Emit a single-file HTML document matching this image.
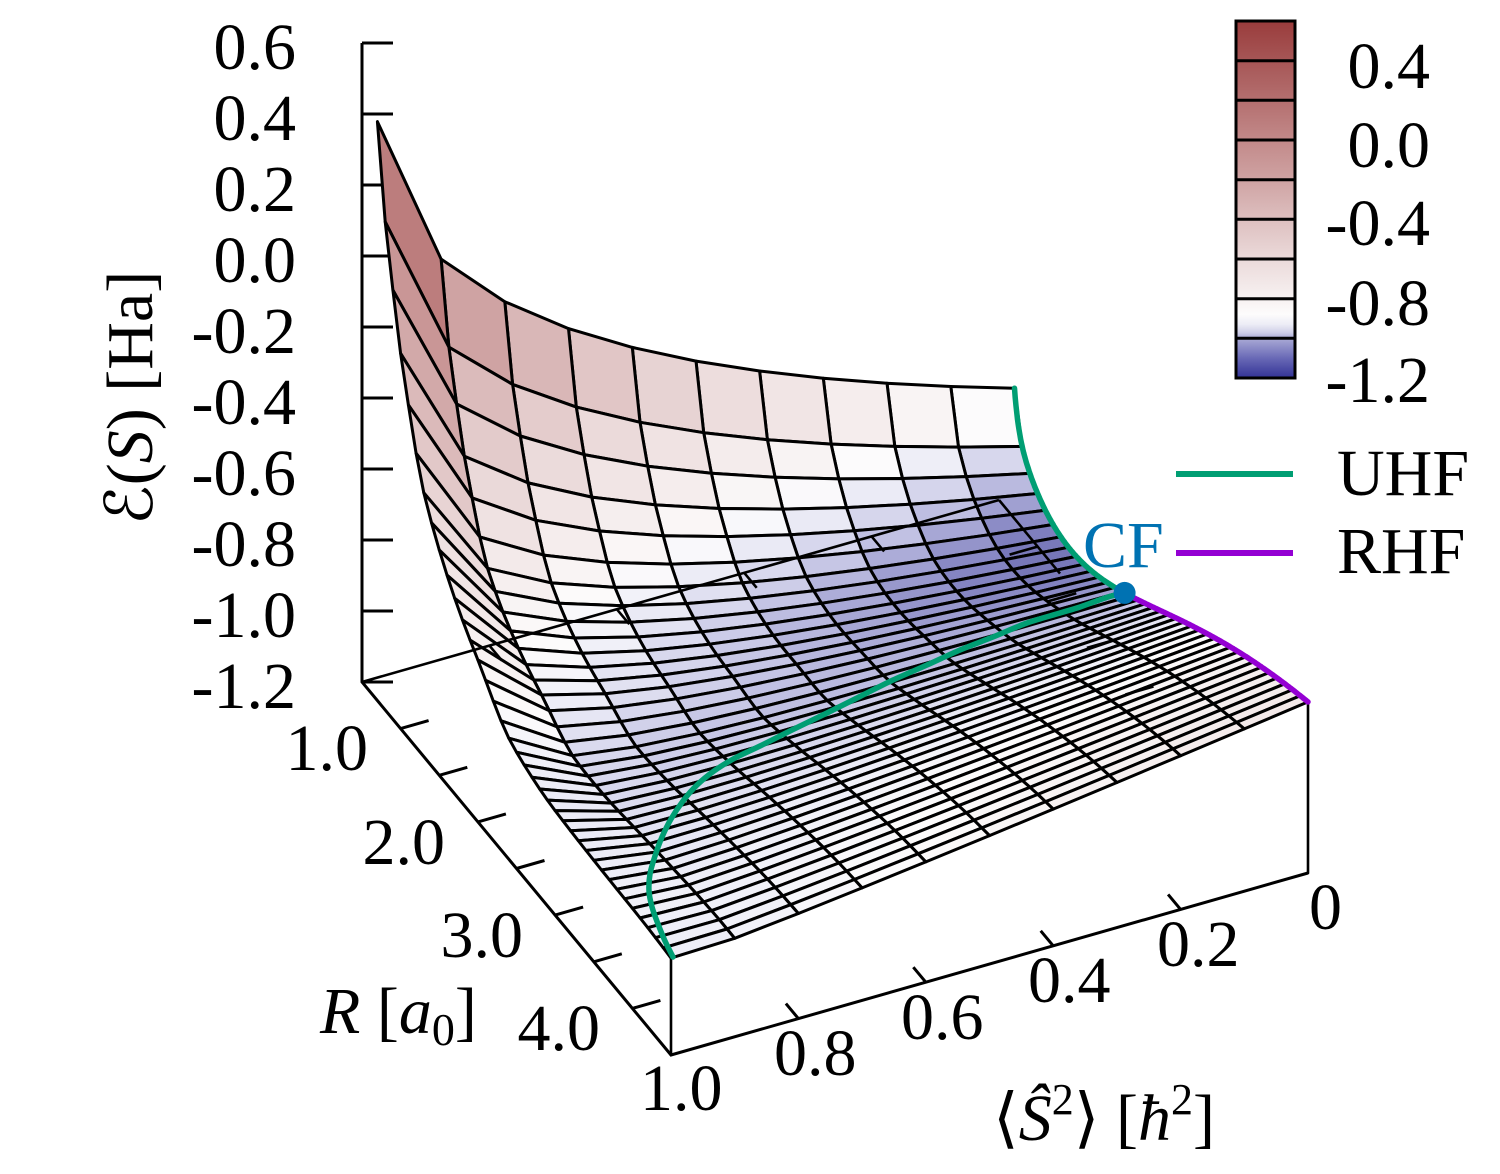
<!DOCTYPE html>
<html><head><meta charset="utf-8"><title>Energy surface</title>
<style>
html,body{margin:0;padding:0;background:#fff;width:1500px;height:1174px;overflow:hidden}
svg{display:block}
text{font-family:"Liberation Serif","DejaVu Serif","DejaVu Sans",serif;font-size:66px;fill:#000}
</style></head><body>
<svg id="svg" xmlns="http://www.w3.org/2000/svg" width="1500" height="1174" viewBox="0 0 1500 1174">
<defs>
<linearGradient id="cbg" x1="0" y1="0" x2="0" y2="1">
<stop offset="0" stop-color="rgb(154,60,60)"/>
<stop offset="0.1111" stop-color="rgb(166,86,86)"/>
<stop offset="0.2222" stop-color="rgb(180,111,111)"/>
<stop offset="0.3333" stop-color="rgb(194,137,137)"/>
<stop offset="0.4444" stop-color="rgb(207,163,163)"/>
<stop offset="0.5556" stop-color="rgb(221,191,191)"/>
<stop offset="0.6667" stop-color="rgb(235,218,218)"/>
<stop offset="0.7778" stop-color="rgb(247,241,241)"/>
<stop offset="0.8222" stop-color="rgb(253,252,252)"/>
<stop offset="0.85" stop-color="rgb(236,236,246)"/>
<stop offset="0.8722" stop-color="rgb(208,208,232)"/>
<stop offset="0.8889" stop-color="rgb(170,170,214)"/>
<stop offset="0.9444" stop-color="rgb(105,105,182)"/>
<stop offset="1" stop-color="rgb(50,50,150)"/>
</linearGradient>
</defs>

<g stroke="#000" stroke-width="3" fill="none">
<path d="M362,43 L362,682 L671,1055 L1308,873"/>
<line x1="362" y1="43" x2="393" y2="43"/>
<line x1="362" y1="114" x2="393" y2="114"/>
<line x1="362" y1="185" x2="393" y2="185"/>
<line x1="362" y1="256" x2="393" y2="256"/>
<line x1="362" y1="327" x2="393" y2="327"/>
<line x1="362" y1="398" x2="393" y2="398"/>
<line x1="362" y1="469" x2="393" y2="469"/>
<line x1="362" y1="540" x2="393" y2="540"/>
<line x1="362" y1="611" x2="393" y2="611"/>
<line x1="362" y1="682" x2="393" y2="682"/>
<line x1="400.6" y1="728.6" x2="428.6" y2="720.6"/>
<line x1="439.3" y1="775.3" x2="467.3" y2="767.3"/>
<line x1="477.9" y1="821.9" x2="505.9" y2="813.9"/>
<line x1="516.5" y1="868.5" x2="544.5" y2="860.5"/>
<line x1="555.1" y1="915.1" x2="583.1" y2="907.1"/>
<line x1="593.8" y1="961.8" x2="621.8" y2="953.8"/>
<line x1="632.4" y1="1008.4" x2="660.4" y2="1000.4"/>
<line x1="798.4" y1="1018.6" x2="785.9" y2="1003.6"/>
<line x1="925.8" y1="982.2" x2="913.3" y2="967.2"/>
<line x1="1053.2" y1="945.8" x2="1040.7" y2="930.8"/>
<line x1="1180.6" y1="909.4" x2="1168.1" y2="894.4"/>
</g>

<g id="surf" stroke="#000" stroke-width="3" stroke-linejoin="round"></g>

<g stroke="#000" stroke-width="2.6" fill="none">
<line x1="362" y1="682" x2="999" y2="500"/>
<line x1="489.4" y1="645.6" x2="501.9" y2="660.6"/>
<line x1="616.8" y1="609.2" x2="629.3" y2="624.2"/>
<line x1="744.2" y1="572.8" x2="756.7" y2="587.8"/>
<line x1="871.6" y1="536.4" x2="884.1" y2="551.4"/>
<line x1="999" y1="500" x2="1060" y2="573.6"/>
<line x1="1037.6" y1="546.6" x2="1009.6" y2="554.6"/>
<line x1="1076.3" y1="593.3" x2="1048.3" y2="601.3"/>
<line x1="1114.9" y1="639.9" x2="1086.9" y2="647.9"/>
<line x1="1153.5" y1="686.5" x2="1125.5" y2="694.5"/>
</g>
<g id="over" fill="none" stroke-linecap="round" stroke-linejoin="round"></g>

<g text-anchor="end">
<text x="296" y="69">0.6</text>
<text x="296" y="140">0.4</text>
<text x="296" y="211">0.2</text>
<text x="296" y="282">0.0</text>
<text x="296" y="353">-0.2</text>
<text x="296" y="424">-0.4</text>
<text x="296" y="495">-0.6</text>
<text x="296" y="566">-0.8</text>
<text x="296" y="637">-1.0</text>
<text x="296" y="708">-1.2</text>
</g>
<text transform="translate(152,398) rotate(-90)" text-anchor="middle">ℰ(<tspan font-style="italic">S</tspan>) [Ha]</text>

<g text-anchor="end">
<text x="368" y="770">1.0</text>
<text x="445" y="864">2.0</text>
<text x="523" y="957">3.0</text>
<text x="600" y="1050">4.0</text>
</g>
<text x="320" y="1033"><tspan font-style="italic">R</tspan> [<tspan font-style="italic">a</tspan><tspan font-size="46" dy="12">0</tspan><tspan dy="-12">]</tspan></text>

<text x="640" y="1110">1.0</text>
<text x="774" y="1075">0.8</text>
<text x="901" y="1039">0.6</text>
<text x="1028" y="1002">0.4</text>
<text x="1157" y="966">0.2</text>
<text x="1309" y="929">0</text>
<text x="993" y="1140">⟨<tspan font-style="italic">Ŝ</tspan><tspan font-size="44" dy="-26">2</tspan><tspan dy="26">⟩ [</tspan><tspan font-style="italic">ħ</tspan><tspan font-size="44" dy="-26">2</tspan><tspan dy="26">]</tspan></text>

<rect x="1236" y="21" width="59" height="357" fill="url(#cbg)" stroke="#000" stroke-width="3"/>
<g stroke="#000" stroke-width="3">
<line x1="1236" y1="60.7" x2="1295" y2="60.7"/>
<line x1="1236" y1="100.3" x2="1295" y2="100.3"/>
<line x1="1236" y1="140" x2="1295" y2="140"/>
<line x1="1236" y1="179.7" x2="1295" y2="179.7"/>
<line x1="1236" y1="219.3" x2="1295" y2="219.3"/>
<line x1="1236" y1="259" x2="1295" y2="259"/>
<line x1="1236" y1="298.7" x2="1295" y2="298.7"/>
<line x1="1236" y1="338.3" x2="1295" y2="338.3"/>
</g>
<g text-anchor="end">
<text x="1430" y="88">0.4</text>
<text x="1430" y="167">0.0</text>
<text x="1430" y="245">-0.4</text>
<text x="1430" y="325">-0.8</text>
<text x="1430" y="402">-1.2</text>
</g>

<line x1="1176" y1="474" x2="1293" y2="474" stroke="#009e73" stroke-width="6"/>
<line x1="1176" y1="553" x2="1293" y2="553" stroke="#9400d3" stroke-width="6"/>
<text x="1337" y="495">UHF</text>
<text x="1337" y="573">RHF</text>
<text x="1083" y="567" style="fill:#0072b2">CF</text>
<circle id="cfdot" cx="1124" cy="592" r="11" fill="#0072b2"/>
</svg>
<script>
(function(){
var NS="http://www.w3.org/2000/svg";
function P(R,S,z){return [362+(R-0.5)*77.25+(1-S)*637, 682+(R-0.5)*93.25-(1-S)*182-355*(z+1.2)];}
function E0(R){var m=1-Math.exp(-0.6*(R-1.43));return -1.097+0.535*m*m+0.103*Math.exp(-20*(R-0.7));}
function makeMono(xs,ys){
  var n=xs.length,d=[],m=new Array(n),i;
  for(i=0;i<n-1;i++)d.push((ys[i+1]-ys[i])/(xs[i+1]-xs[i]));
  m[0]=d[0];m[n-1]=d[n-2];
  for(i=1;i<n-1;i++){m[i]=(d[i-1]*d[i]<=0)?0:2*d[i-1]*d[i]/(d[i-1]+d[i]);}
  return function(x){
    if(x<=xs[0])return ys[0]; if(x>=xs[n-1])return ys[n-1];
    var k=0; while(x>xs[k+1])k++;
    var h=xs[k+1]-xs[k],t=(x-xs[k])/h,t2=t*t,t3=t2*t;
    return (2*t3-3*t2+1)*ys[k]+(t3-2*t2+t)*h*m[k]+(-2*t3+3*t2)*ys[k+1]+(t3-t2)*h*m[k+1];
  };
}
var E1=makeMono([0.7,0.8,0.9,1.0,1.1,1.2,1.3,1.65,2.0,2.46,2.98,3.58,4.19,4.5],
                [0.431,0.175,0.009,-0.143,-0.262,-0.372,-0.457,-0.63,-0.744,-0.868,-0.905,-0.915,-0.92,-0.927]);
var Rc=2.126, bc=2*(E1(Rc)-E0(Rc));
function bf(R){
  var t;
  if(R<=Rc){t=(R-0.7)/(Rc-0.7);return Math.exp(Math.log(1.444)*(1-t)+Math.log(bc)*t);}
  t=(R-Rc)/(4.5-Rc);return Math.exp(Math.log(bc)*(1-t)+Math.log(0.076)*t);
}
function zf(R,S){var e0=E0(R),e1=E1(R),b=bf(R),a=e1-e0-b;return e0+a*S+b*(1-Math.sqrt(Math.max(0,1-S)));}
var cm=[[-1.2,50,50,150],[-1.1,110,110,178],[-1.07,135,135,195],[-1.04,165,165,212],[-1.0,200,200,230],[-0.96,222,222,240],[-0.92,240,240,248],[-0.87,253,252,252],[-0.8,247,241,241],[-0.6,235,218,218],[-0.4,221,191,191],[-0.2,207,163,163],[0,194,137,137],[0.2,180,111,111],[0.4,166,86,86],[0.6,154,60,60]];
function col(v){
  if(v<=cm[0][0])return "rgb("+cm[0][1]+","+cm[0][2]+","+cm[0][3]+")";
  for(var i=0;i<cm.length-1;i++){
    if(v<=cm[i+1][0]){var t=(v-cm[i][0])/(cm[i+1][0]-cm[i][0]);
      var r=Math.round(cm[i][1]+t*(cm[i+1][1]-cm[i][1])),g=Math.round(cm[i][2]+t*(cm[i+1][2]-cm[i][2])),b=Math.round(cm[i][3]+t*(cm[i+1][3]-cm[i][3]));
      return "rgb("+r+","+g+","+b+")";}
  }
  var l=cm[cm.length-1];return "rgb("+l[1]+","+l[2]+","+l[3]+")";
}
var Rs=[],Ss=[],i,j;
for(i=0;i<=38;i++)Rs.push(0.7+0.1*i);
for(j=0;j<=10;j++)Ss.push(j/10);
var Z=[],PT=[];
for(i=0;i<Rs.length;i++){Z.push([]);PT.push([]);
  for(j=0;j<Ss.length;j++){var z=zf(Rs[i],Ss[j]);Z[i].push(z);PT[i].push(P(Rs[i],Ss[j],z));}}
var quads=[];
for(i=0;i<Rs.length-1;i++)for(j=0;j<Ss.length-1;j++){
  var Rm=(Rs[i]+Rs[i+1])/2,Sm=(Ss[j]+Ss[j+1])/2;
  var depth=(Rm-0.5)*93.25-(1-Sm)*182;
  var zav=(Z[i][j]+Z[i][j+1]+Z[i+1][j+1]+Z[i+1][j])/4;
  var pts=[PT[i][j],PT[i][j+1],PT[i+1][j+1],PT[i+1][j]];
  quads.push({d:depth,c:col(zav),p:pts});
}
quads.sort(function(a,b){return a.d-b.d;});
var surf=document.getElementById("surf");
quads.forEach(function(q){
  var el=document.createElementNS(NS,"polygon");
  el.setAttribute("points",q.p.map(function(p){return p[0].toFixed(1)+","+p[1].toFixed(1);}).join(" "));
  el.setAttribute("fill",q.c);
  surf.appendChild(el);
});
var over=document.getElementById("over");
function addPath(pts,color,w){
  var el=document.createElementNS(NS,"path");
  el.setAttribute("d","M"+pts.map(function(p){return p[0].toFixed(1)+","+p[1].toFixed(1);}).join("L"));
  el.setAttribute("stroke",color);el.setAttribute("stroke-width",w);el.setAttribute("fill","none");
  over.appendChild(el);
}
function addSmooth(pts,color,w){
  var d="M"+pts[0][0].toFixed(1)+","+pts[0][1].toFixed(1);
  for(var k=0;k<pts.length-1;k++){
    var p0=pts[k-1]||pts[k],p1=pts[k],p2=pts[k+1],p3=pts[k+2]||pts[k+1];
    var c1=[p1[0]+(p2[0]-p0[0])/6,p1[1]+(p2[1]-p0[1])/6],c2=[p2[0]-(p3[0]-p1[0])/6,p2[1]-(p3[1]-p1[1])/6];
    d+="C"+c1[0].toFixed(1)+","+c1[1].toFixed(1)+" "+c2[0].toFixed(1)+","+c2[1].toFixed(1)+" "+p2[0].toFixed(1)+","+p2[1].toFixed(1);
  }
  var el=document.createElementNS(NS,"path");
  el.setAttribute("d",d);el.setAttribute("stroke",color);el.setAttribute("stroke-width",w);el.setAttribute("fill","none");
  over.appendChild(el);
}
function addLine(p,q,color,w){
  var el=document.createElementNS(NS,"line");
  el.setAttribute("x1",p[0].toFixed(1));el.setAttribute("y1",p[1].toFixed(1));
  el.setAttribute("x2",q[0].toFixed(1));el.setAttribute("y2",q[1].toFixed(1));
  el.setAttribute("stroke",color);el.setAttribute("stroke-width",w);
  over.appendChild(el);
}
addLine([671,1055],P(4.5,1,zf(4.5,1)),"#000",2.6);
addLine([1308,873],P(4.5,0,zf(4.5,0)),"#000",2.6);
var R,g0=[],pu=[];
for(R=0.7;R<Rc;R+=0.01)g0.push(P(R,0,E0(R)));
g0.push(P(Rc,0,E0(Rc)));
for(R=Rc;R<4.5;R+=0.01)pu.push(P(R,0,E0(R)));
pu.push(P(4.5,0,E0(4.5)));
var cf=P(Rc,0,E0(Rc));
var uh=[cf,[1108,597],[1080,607],[1060,613],[1027,623],[993,637],[960,650],[927,665],[893,680],[860,696.5],[827,713],[793,729.5],[760,746],[735,758],[714,771],[697,785],[683,801],[671,819],[662,837],[655,856],[650,874],[649,891],[652,907],[658,924],[665,941],[673,957]];
addPath(g0,"#009e73",5.5);
addSmooth(uh,"#009e73",5.5);
addPath(pu,"#9400d3",5.5);
var dot=document.getElementById("cfdot");
dot.setAttribute("cx",cf[0].toFixed(1));dot.setAttribute("cy",cf[1].toFixed(1));
document.getElementById("svg").appendChild(dot);
})();
</script>
</body></html>
